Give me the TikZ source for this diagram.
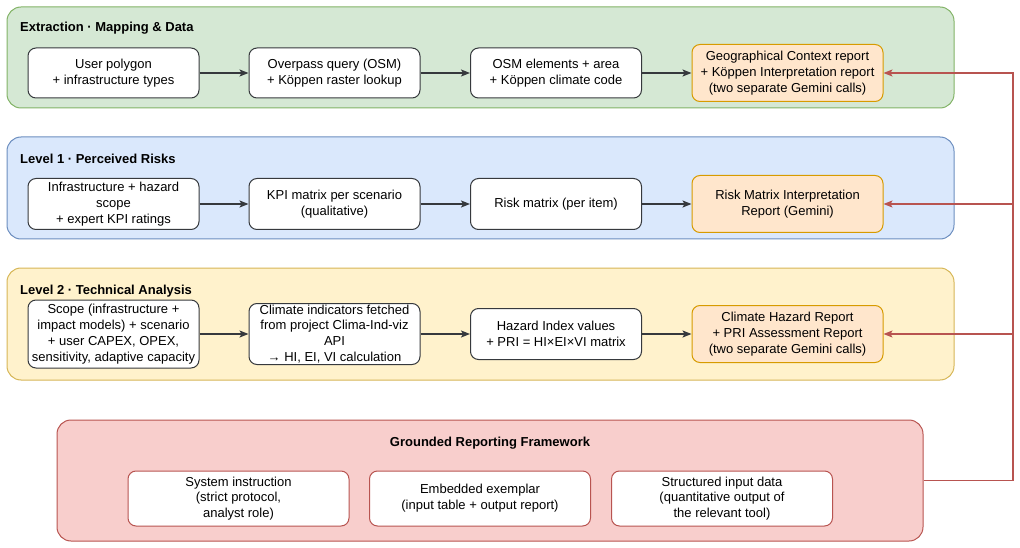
\documentclass[tikz,border=0pt]{standalone}
\usepackage{fontspec}
\setmainfont{Liberation Sans}
\usepackage{xcolor}
\usepackage{tikz}
\usetikzlibrary{arrows.meta,positioning,calc}

\definecolor{grnfill}{HTML}{D5E8D4}\definecolor{grnline}{HTML}{82B366}
\definecolor{bluefill}{HTML}{DAE8FC}\definecolor{blueline}{HTML}{6C8EBF}
\definecolor{yelfill}{HTML}{FFF2CC}\definecolor{yelline}{HTML}{D6B656}
\definecolor{redfill}{HTML}{F8CECC}\definecolor{redline}{HTML}{B85450}
\definecolor{orgfill}{HTML}{FFE6CC}\definecolor{orgline}{HTML}{D79B00}
\definecolor{boxline}{HTML}{36393D}

\begin{document}
\begin{tikzpicture}[x=1pt,y=-1pt,
  every node/.style={font=\fontsize{13}{15.8}\selectfont, align=center, inner sep=2pt},
  panel/.style={draw, line width=1pt, rounded corners=14pt},
  title/.style={font=\fontsize{13}{15.8}\selectfont\bfseries, anchor=west},
  stepbox/.style={draw=boxline, fill=white, line width=1pt, rounded corners=8pt,
    minimum width=171pt, minimum height=51pt},
  rptbox/.style={draw=orgline, fill=orgfill, line width=1pt, rounded corners=8pt,
    minimum width=191pt, minimum height=57pt},
  partbox/.style={draw=redline, fill=white, line width=1pt, rounded corners=8pt,
    minimum width=221pt, minimum height=55pt},
  flow/.style={-{Stealth[length=9pt,width=7pt,inset=2pt]}, line width=1.2pt, draw=boxline},
  feed/.style={line width=1.2pt, draw=redline},
  feedarr/.style={feed, -{Stealth[length=9pt,width=7pt,inset=2pt]}}]
  \useasboundingbox (0,0) rectangle (1020,548);

  % Extraction
  \node[panel, fill=grnfill, draw=grnline, minimum width=947pt, minimum height=101pt] (pnlA) at (480.5,57.5) {};
  \node[title] (ttlA) at (18,28) {Extraction · Mapping \& Data};
  \node[stepbox, minimum height=50pt] (a1) at (113.5,73) {User polygon\\+ infrastructure types};
  \node[stepbox, minimum height=50pt] (a2) at (334.5,73) {Overpass query (OSM)\\+ Köppen raster lookup};
  \node[stepbox, minimum height=50pt] (a3) at (556,73) {OSM elements + area\\+ Köppen climate code};
  \node[rptbox] (rptA) at (787.5,73) {Geographical Context report\\+ Köppen Interpretation report\\(two separate Gemini calls)};
  \draw[flow] (a1) -- (a2);
  \draw[flow] (a2) -- (a3);
  \draw[flow] (a3) -- (rptA);

  % Level 1
  \node[panel, fill=bluefill, draw=blueline, minimum width=947pt, minimum height=102pt] (pnlB) at (480.5,188) {};
  \node[title] (ttlB) at (18,159) {Level 1 · Perceived Risks};
  \node[stepbox] (b1) at (113.5,204) {Infrastructure + hazard\\scope\\+ expert KPI ratings};
  \node[stepbox] (b2) at (334.5,204) {KPI matrix per scenario\\(qualitative)};
  \node[stepbox] (b3) at (556,204) {Risk matrix (per item)};
  \node[rptbox] (rptB) at (787.5,204) {Risk Matrix Interpretation\\Report (Gemini)};
  \draw[flow] (b1) -- (b2);
  \draw[flow] (b2) -- (b3);
  \draw[flow] (b3) -- (rptB);

  % Level 2
  \node[panel, fill=yelfill, draw=yelline, minimum width=947pt, minimum height=112pt] (pnlC) at (480.5,324) {};
  \node[title] (ttlC) at (18,291) {Level 2 · Technical Analysis};
  \node[stepbox, minimum height=68pt, inner sep=1pt] (c1) at (113.5,334) {Scope (infrastructure +\\impact models) + scenario\\+ user CAPEX, OPEX,\\sensitivity, adaptive capacity};
  \node[stepbox, minimum height=61pt, inner sep=1pt] (c2) at (334.5,334) {Climate indicators fetched\\from project Clima-Ind-viz\\API\\→ HI, EI, VI calculation};
  \node[stepbox] (c3) at (556,334) {Hazard Index values\\+ PRI = HI×EI×VI matrix};
  \node[rptbox] (rptC) at (787.5,334) {Climate Hazard Report\\+ PRI Assessment Report\\(two separate Gemini calls)};
  \draw[flow] (c1) -- (c2);
  \draw[flow] (c2) -- (c3);
  \draw[flow] (c3) -- (rptC);

  % Grounded reporting
  \node[panel, fill=redfill, draw=redline, minimum width=866pt, minimum height=121pt] (pnlD) at (490,480.5) {};
  \node[font=\fontsize{13}{15.8}\selectfont\bfseries] (ttlD) at (490,443) {Grounded Reporting Framework};
  \node[partbox] (d1) at (238.5,498.5) {System instruction\\(strict protocol,\\analyst role)};
  \node[partbox] (d2) at (480,498.5) {Embedded exemplar\\(input table + output report)};
  \node[partbox] (d3) at (722,498.5) {Structured input data\\(quantitative output of\\the relevant tool)};

  % feedback into the reports
  \coordinate (bus) at (1013,0);
  \draw[feedarr] (pnlD.east) -| (bus |- rptA.east) -- (rptA.east);
  \draw[feedarr] (bus |- rptB.east) -- (rptB.east);
  \draw[feedarr] (bus |- rptC.east) -- (rptC.east);
\end{tikzpicture}
\end{document}
